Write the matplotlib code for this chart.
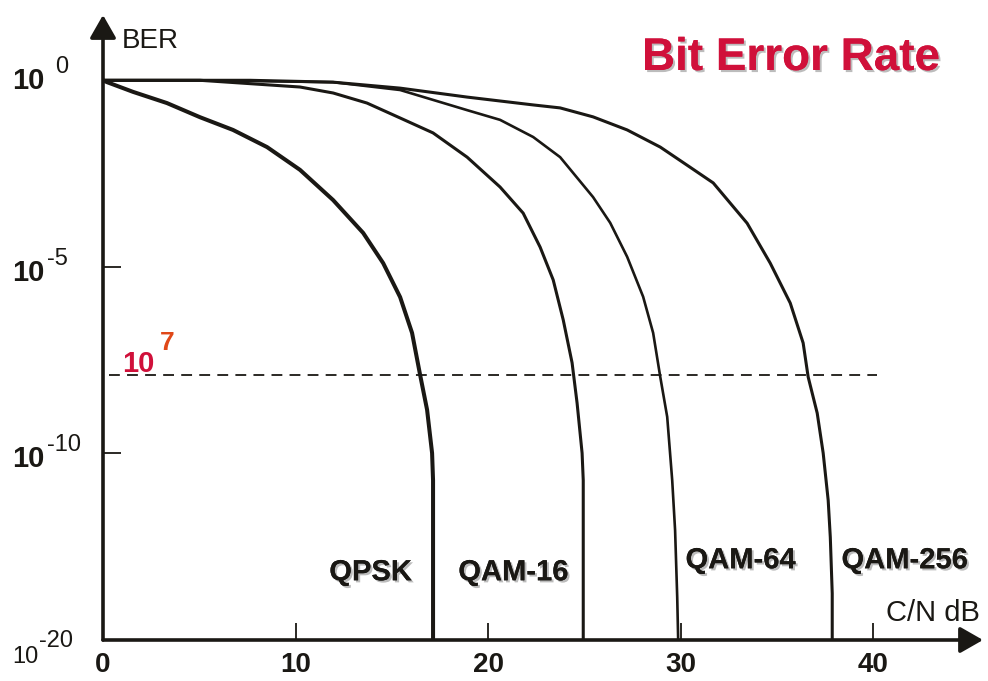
import numpy as np
import matplotlib.pyplot as plt
import matplotlib.patheffects as pe
import matplotlib.transforms as mtrans

plt.rcParams['font.family'] = ['Liberation Sans', 'DejaVu Sans']

# C/N in dB, BER given as exponent of 10
qpsk_x = [0, 0.21, 1.56, 3.32, 5.04, 6.75, 8.52, 10.23, 11.95, 13.51, 14.55, 15.43, 16.05, 16.47, 16.83, 17.09, 17.14, 17.14]
qpsk_y = [0, -0.05, -0.31, -0.61, -0.99, -1.33, -1.79, -2.40, -3.21, -4.09, -4.90, -5.81, -6.77, -7.90, -8.83, -9.99, -11.44, -20]

qam16_x = [0, 5.04, 10.23, 11.95, 13.71, 15.43, 17.14, 18.91, 20.62, 21.82, 22.70, 23.38, 23.90, 24.36, 24.62, 24.88, 24.94, 24.94]
qam16_y = [0, 0, -0.18, -0.34, -0.61, -1.01, -1.41, -2.06, -2.86, -3.56, -4.47, -5.35, -6.42, -7.57, -8.65, -9.99, -11.44, -20]

qam64_x = [0, 5.04, 11.95, 15.43, 18.91, 20.62, 22.34, 23.74, 25.45, 26.34, 27.22, 28.05, 28.57, 28.94, 29.30, 29.56, 29.71, 29.82, 29.87]
qam64_y = [0, 0, -0.05, -0.26, -0.80, -1.06, -1.52, -2.06, -3.13, -3.82, -4.73, -5.80, -6.77, -7.95, -9.02, -11.44, -14.12, -17.70, -20]

qam256_x = [0, 7.64, 11.95, 15.43, 18.91, 22.34, 23.74, 25.45, 27.22, 28.94, 30.49, 31.69, 33.45, 34.65, 35.69, 36.36, 36.62, 37.09, 37.40, 37.66, 37.77, 37.87, 37.87]
qam256_y = [0, 0, -0.05, -0.21, -0.45, -0.66, -0.74, -0.98, -1.33, -1.79, -2.33, -2.75, -3.83, -4.90, -5.97, -7.04, -7.95, -8.92, -9.99, -12.51, -14.49, -17.5, -20]

threshold = -7.9
xticks = [0, 10, 20, 30, 40]
ytick_exps = [0, -5, -10, -20]
ytick_sups = ['0', '-5', '-10', '-20']

ink = '#1a1814'
red = '#d0103a'


def fwd(e):
    e = np.asarray(e, dtype=float)
    return np.where(e >= -10, e, -10 + (e + 10) * 0.5)


def inv(t):
    t = np.asarray(t, dtype=float)
    return np.where(t >= -10, t, -10 + (t + 10) * 2.0)


fig = plt.figure(figsize=(9.88, 6.81), dpi=100)
ax = fig.add_axes([103 / 988, 1 - 640 / 681, 880 / 988, 625 / 681])
ax.set_yscale('function', functions=(fwd, inv))
ax.set_xlim(0, 45.7)
ax.set_ylim(-20, 1.75)
for s in ax.spines.values():
    s.set_visible(False)

ax.plot(qpsk_x, qpsk_y, color=ink, lw=2.9, solid_joinstyle='round')
ax.plot(qam16_x, qam16_y, color=ink, lw=2.2, solid_joinstyle='round')
ax.plot(qam64_x, qam64_y, color=ink, lw=1.9, solid_joinstyle='round')
ax.plot(qam256_x, qam256_y, color=ink, lw=2.2, solid_joinstyle='round')

ax.plot([0.3, 40.2], [threshold, threshold], color=ink, lw=1.3, dashes=(6, 4))

# axes drawn as arrows
arr = dict(arrowstyle='-|>,head_length=0.7,head_width=0.4', color=ink, lw=2.6,
           mutation_scale=20, shrinkA=0, shrinkB=0)
ax.annotate('', xy=(0, 1), xytext=(0, 0), xycoords='axes fraction', arrowprops=arr, annotation_clip=False)
ax.annotate('', xy=(1, 0), xytext=(0, 0), xycoords='axes fraction', arrowprops=arr, annotation_clip=False)

ax.set_xticks(xticks)
ax.set_xticklabels([str(v) for v in xticks], fontsize=20, fontweight='bold', color=ink)
ax.tick_params(axis='x', direction='in', length=12, width=1.3, color=ink, pad=9)
ax.set_yticks([-5, -10])
ax.set_yticklabels([])
ax.tick_params(axis='y', direction='in', length=13, width=1.3, color=ink)

# y tick labels: base and superscript
tr = mtrans.blended_transform_factory(fig.transFigure, ax.transData)
off = mtrans.offset_copy
base_off = {0: -9, -5: -14, -10: -14, -20: -23}
sup_dx = {0: 55, -5: 47, -10: 47, -20: 39}
for e, sup in zip(ytick_exps, ytick_sups):
    big = e != -20
    t1 = off(tr, fig=fig, x=0, y=base_off[e], units='dots')
    ax.text(12 / 988, e, '10', transform=t1, fontsize=21 if big else 17,
            fontweight='bold' if big else 'normal', color=ink, va='baseline', ha='left')
    t2 = off(tr, fig=fig, x=0, y=base_off[e] + 16, units='dots')
    ax.text(sup_dx[e] / 988, e, sup, transform=t2, fontsize=17,
            color=ink, va='baseline', ha='left')

# threshold label
tl = off(ax.transData, fig=fig, x=0, y=3, units='dots')
ax.text(1.0, threshold, '10', transform=tl, fontsize=21, fontweight='bold', color=red, va='baseline')
tl2 = off(ax.transData, fig=fig, x=0, y=25, units='dots')
ax.text(2.95, threshold, '7', transform=tl2, fontsize=19, fontweight='bold', color='#e04818', va='baseline')

shadow = [pe.withSimplePatchShadow(offset=(1.5, -1.5), shadow_rgbFace='#909090', alpha=0.6), pe.Normal()]
fig.text(642 / 988, 1 - 70 / 681, 'Bit Error Rate', fontsize=33, fontweight='bold', color=red,
         va='baseline', path_effects=shadow)
fig.text(122 / 988, 1 - 48 / 681, 'BER', fontsize=20, color=ink, va='baseline')
fig.text(886 / 988, 1 - 621 / 681, 'C/N dB', fontsize=21, color=ink, va='baseline')

lab_y = -16.8
for x, name, dy in [(11.75, 'QPSK', 0), (18.45, 'QAM-16', 0), (30.25, 'QAM-64', 12), (38.35, 'QAM-256', 12)]:
    tt = off(ax.transData, fig=fig, x=0, y=dy, units='dots')
    ax.text(x, lab_y, name, transform=tt, fontsize=21, fontweight='bold', color=ink,
            va='baseline', ha='left', path_effects=shadow)

fig.savefig('out.png', dpi=100)
